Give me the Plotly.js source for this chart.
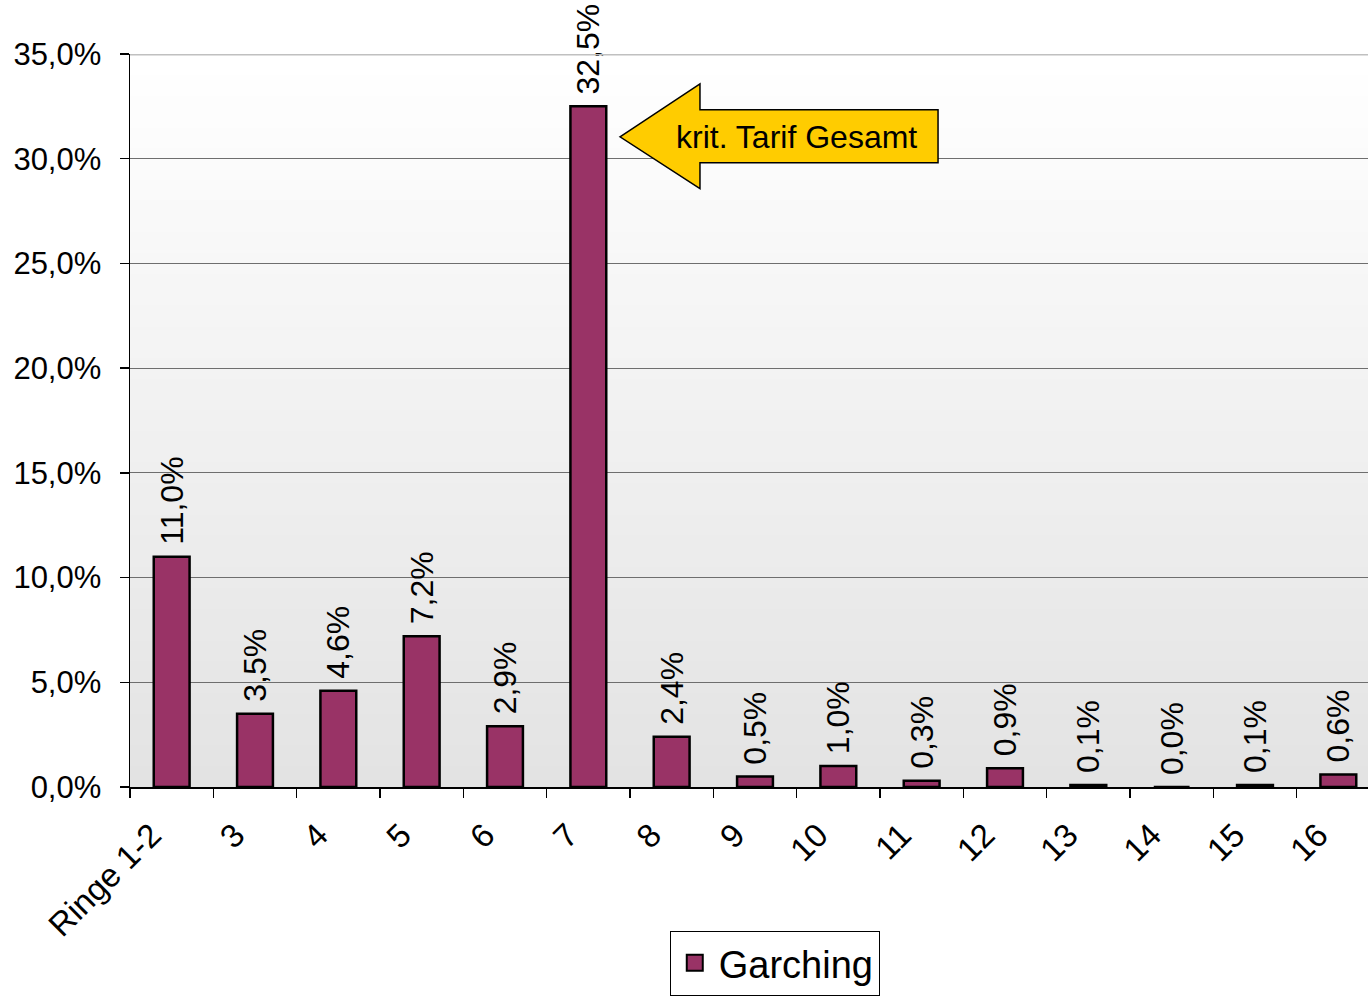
<!DOCTYPE html>
<html>
<head>
<meta charset="utf-8">
<script src="https://cdn.plot.ly/plotly-3.0.1.min.js"></script>
<style>html,body{margin:0;padding:0;background:#fff;}#chart{width:1368px;height:996px;}</style>
</head>
<body>
<div id="chart"></div>
<script>
const categories = ["Ringe 1-2","3","4","5","6","7","8","9","10","11","12","13","14","15","16"];
const shares = [11.0, 3.5, 4.6, 7.2, 2.9, 32.5, 2.4, 0.5, 1.0, 0.3, 0.9, 0.1, 0.0, 0.1, 0.6];
const seriesName = "Garching";
const yTicks = [0, 5, 10, 15, 20, 25, 30, 35];
const yTickLabels = ["0,0%", "5,0%", "10,0%", "15,0%", "20,0%", "25,0%", "30,0%", "35,0%"];
const calloutText = "krit. Tarif Gesamt";

const FONT = "Liberation Sans, Arial, sans-serif";
const BAR = "#993366";

// background gradient bands (white at top to light grey at bottom)
const shapes = [];
const nBands = 70;
for (let i = 0; i < nBands; i++) {
  const t = i / (nBands - 1);
  const c = Math.round(227 + (255 - 227) * t);
  shapes.push({
    type: "rect", xref: "paper", yref: "paper", layer: "below",
    x0: 0, x1: 1, y0: i / nBands, y1: (i + 1) / nBands + 0.002,
    fillcolor: `rgb(${c},${c},${c})`, line: {width: 0}
  });
}
// light top border line at 35%
shapes.push({type: "line", xref: "paper", yref: "y", x0: 0, x1: 1, y0: 35, y1: 35,
  line: {color: "#c0c0c0", width: 3}, layer: "above"});
// yellow callout arrow (paper coords)
shapes.push({
  type: "path", xref: "paper", yref: "paper", layer: "above",
  path: "M0.3958,0.8871 L0.4604,0.9592 L0.4604,0.9238 L0.6527,0.9238 L0.6527,0.8517 L0.4604,0.8517 L0.4604,0.8163 Z",
  fillcolor: "#FFCC00", line: {color: "#000", width: 1.5}
});

const traces = [
  {
    type: "bar", x: categories, y: shares, name: seriesName, showlegend: false,
    marker: {color: BAR, line: {color: "#000", width: 2.5}},
    texttemplate: " %{y:.1f}%", textposition: "outside", textangle: -90,
    textfont: {family: FONT, size: 32, color: "#000"},
    constraintext: "none", cliponaxis: false, hoverinfo: "x+y"
  },
  {
    type: "scatter", mode: "markers", x: [null], y: [null], name: seriesName,
    marker: {symbol: "square", size: 18, color: BAR, line: {color: "#000", width: 2}},
    showlegend: true, hoverinfo: "skip"
  }
];

const layout = {
  width: 1368, height: 996,
  margin: {l: 130, r: 0, t: 54, b: 207},
  paper_bgcolor: "#fff", plot_bgcolor: "#fff",
  separators: ",.",
  font: {family: FONT, color: "#000"},
  bargap: 0.57,
  xaxis: {
    type: "category", range: [-0.5, 14.356], fixedrange: true,
    showline: true, linecolor: "#000", linewidth: 1.5,
    ticks: "outside", tickson: "boundaries", ticklen: 9, tickcolor: "#000", tickwidth: 1.5,
    tickangle: -45, tickfont: {family: FONT, size: 33, color: "#000"},
    ticklabelstandoff: 14, ticklabelshift: -20, showgrid: false
  },
  yaxis: {
    range: [0, 35], fixedrange: true,
    tickvals: yTicks, ticktext: yTickLabels,
    showline: true, linecolor: "#000", linewidth: 1.5,
    ticks: "outside", ticklen: 9, tickcolor: "#000", tickwidth: 1.5,
    tickfont: {family: FONT, size: 31, color: "#000"},
    ticklabelstandoff: 12,
    showgrid: true, gridcolor: "#6e6e6e", gridwidth: 1, zeroline: false
  },
  legend: {
    x: 0.436, xanchor: "left", y: -0.196, yanchor: "top",
    bordercolor: "#000", borderwidth: 1, bgcolor: "#fff",
    font: {family: FONT, size: 38, color: "#000"},
    itemsizing: "trace", itemwidth: 38
  },
  shapes: shapes,
  annotations: [
    {xref: "paper", yref: "paper", x: 0.538, y: 0.8871, text: calloutText, showarrow: false,
     font: {family: FONT, size: 32, color: "#000"}, xanchor: "center", yanchor: "middle"}
  ]
};

Plotly.newPlot("chart", traces, layout, {displayModeBar: false, staticPlot: true});
</script>
</body>
</html>
